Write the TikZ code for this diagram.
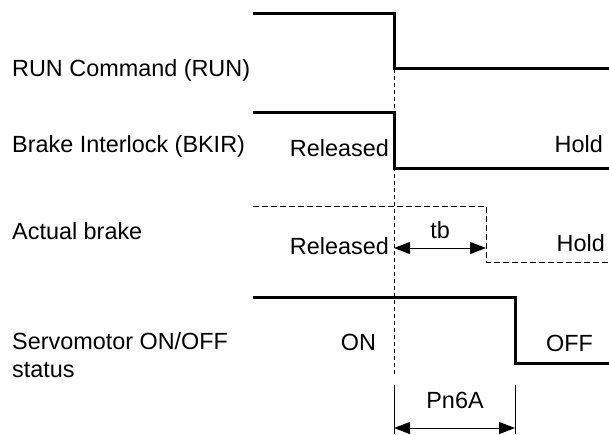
\documentclass[tikz,border=0pt]{standalone}
\usepackage{fontspec}
\setmainfont{Liberation Sans}
\usetikzlibrary{arrows.meta,positioning,calc}
\tikzset{
  every node/.style={font=\fontsize{23.4}{28}\selectfont, text=black, inner sep=0pt},
  sigline/.style={line width=3pt, line join=miter},
  brakeline/.style={line width=1pt, dash pattern=on 6pt off 3pt},
  guide/.style={line width=1pt, dash pattern=on 4pt off 3pt},
  tickline/.style={line width=1pt},
  dim/.style={{Triangle[length=16pt,width=12pt]}-{Triangle[length=16pt,width=12pt]}, line width=1pt},
  rowlabel/.style={anchor=west, align=left},
}

\begin{document}
\begin{tikzpicture}[x=1pt,y=-1pt]
  \useasboundingbox (0,0) rectangle (609,434);
  % time points
  \def\xa{253}  \def\xt{394}  \def\xb{486}  \def\xs{515}  \def\xr{609}

  % row labels
  \foreach \n/\y/\t in {run/70.5/RUN Command (RUN), bkir/146/Brake Interlock (BKIR),
      brake/231.5/Actual brake, servo/355/{Servomotor ON/OFF\\status}} {
    \node[rowlabel] (\n) at (12,\y) {\t};
  }

  % --- waveforms ---------------------------------------------------------
  \draw[sigline] (\xa,13.4) -- (\xt,13.4) -- (\xt,68.8) coordinate (toff) -- (\xr,68.8);
  \draw[sigline] (\xa,112.4) -- (\xt,112.4) -- (\xt,168) -- (\xr,168);
  \draw[brakeline] (\xa,206) -- (\xb,206) -- (\xb,262) -- (\xr,262);
  \draw[sigline] (\xa,297) -- (\xs,297) -- (\xs,363) -- (\xr,363);

  % state labels
  \node[anchor=east] (bkirrel) at (389,148) {Released};
  \node[anchor=east] (bkirhold) at (603,144) {Hold};
  \node[anchor=east] (brakerel) at (389,246) {Released};
  \node[anchor=east] (brakehold) at (605,243) {Hold};
  \node (servoon) at (358.5,342) {ON};
  \node (servooff) at (569.5,343) {OFF};

  % guide line from RUN off
  \coordinate (gend) at (\xt,374);
  \draw[guide] (toff) -- (gend);

  % tb
  \coordinate (tb1) at (\xt,248);
  \coordinate (tb2) at (\xb,248);
  \draw[dim] (tb1) -- (tb2);
  \node (tb) at (440,230) {tb};

  % Pn6A
  \coordinate (p1) at (\xt,385);  \coordinate (p1b) at (\xt,434);
  \coordinate (p2) at (\xs,385);  \coordinate (p2b) at (\xs,434);
  \draw[tickline] (p1) -- (p1b);
  \draw[tickline] (p2) -- (p2b);
  \draw[dim] (\xt,428) -- (\xs,428);
  \node (pn) at (455,400) {Pn6A};
\end{tikzpicture}
\end{document}
